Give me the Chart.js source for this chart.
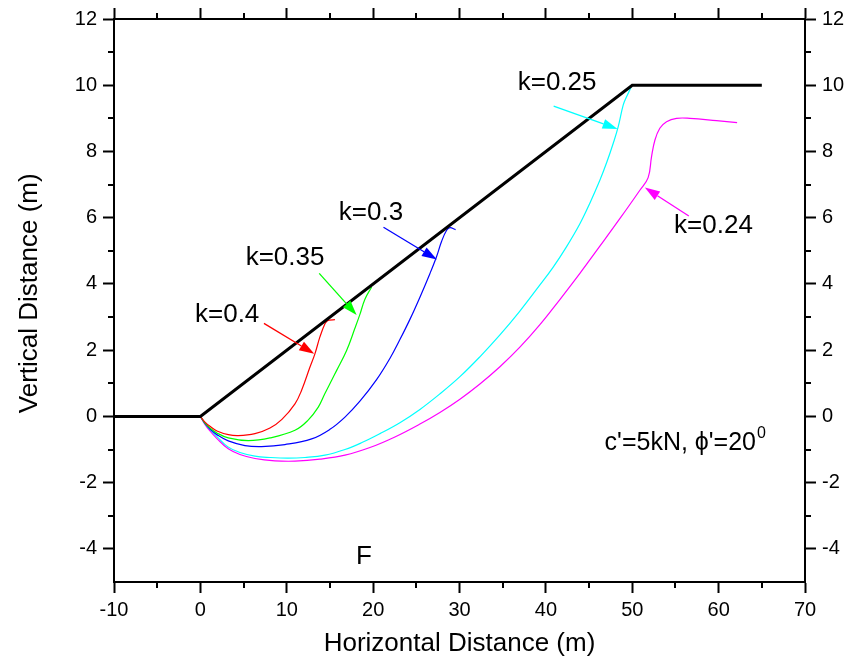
<!DOCTYPE html>
<html>
<head>
<meta charset="utf-8">
<script src="https://cdn.jsdelivr.net/npm/chart.js@4/dist/chart.umd.min.js"></script>
<style>
  html, body { margin: 0; padding: 0; background: #fff; }
</style>
</head>
<body>
<canvas id="slopeChart" width="850" height="660"></canvas>
<script>
// ground surface
const slopeX = [-10, 0, 50, 65]
const slopeY = [0, 0, 10, 10]

// slip surfaces for each k
const k040X = [0, 0.53, 1.11, 1.92, 3.23, 4.39, 6.32, 8.06, 9.44, 10.95, 11.72, 12.69, 13.26, 13.84, 14.42, 14.71, 14.92, 15.58]
const k040Y = [0, -0.17, -0.30, -0.44, -0.55, -0.58, -0.52, -0.35, -0.09, 0.38, 0.79, 1.49, 1.89, 2.40, 2.80, 2.89, 2.91, 2.92]

const k035X = [0, 0.53, 1.11, 1.92, 3.23, 5.55, 8.06, 10.95, 12.45, 13.65, 14.42, 15.20, 15.78, 16.93, 17.89, 18.47, 19.05, 19.83]
const k035Y = [0, -0.20, -0.35, -0.50, -0.65, -0.73, -0.65, -0.42, -0.12, 0.28, 0.69, 1.09, 1.39, 1.99, 2.66, 3.08, 3.54, 3.91]

const k030X = [0, 0.53, 1.11, 1.92, 3.23, 5.16, 7.09, 9.79, 12.88, 15.0, 16.74, 18.47, 20.40, 21.94, 23.10, 24.26, 25.42, 26.57, 27.35, 27.93, 28.51, 28.89, 29.55]
const k030Y = [0, -0.21, -0.38, -0.55, -0.74, -0.88, -0.91, -0.85, -0.68, -0.39, -0.02, 0.46, 1.11, 1.75, 2.32, 2.93, 3.60, 4.31, 4.83, 5.29, 5.62, 5.70, 5.64]

const k025X = [0, 0.53, 1.11, 1.92, 3.19, 4.58, 6.32, 8.06, 10.14, 12.11, 14.42, 16.74, 18.70, 20.79, 23.10, 25.42, 27.73, 30.05, 32.36, 34.68, 36.99, 39.31, 40.85, 42.31, 43.94, 45.09, 46.25, 47.06, 47.79, 48.37, 48.95, 49.34, 49.92]
const k025Y = [0, -0.21, -0.39, -0.61, -0.92, -1.09, -1.20, -1.24, -1.26, -1.24, -1.17, -1.00, -0.79, -0.52, -0.19, 0.21, 0.68, 1.20, 1.80, 2.46, 3.18, 3.97, 4.51, 5.09, 5.82, 6.44, 7.13, 7.68, 8.24, 8.74, 9.40, 9.65, 9.97]

const k024X = [0, 0.53, 1.11, 1.92, 3.23, 4.58, 6.32, 8.63, 10.95, 13.84, 16.74, 19.63, 22.52, 25.42, 27.73, 30.05, 32.36, 34.68, 36.99, 39.31, 41.62, 43.94, 46.25, 48.56, 50.88, 51.84, 52.23, 52.62, 53.19, 53.97, 55.13, 56.67, 59.76, 62.14]
const k024Y = [0, -0.24, -0.44, -0.67, -0.98, -1.15, -1.27, -1.34, -1.35, -1.29, -1.17, -0.94, -0.62, -0.23, 0.12, 0.52, 0.98, 1.50, 2.09, 2.77, 3.53, 4.32, 5.14, 5.97, 6.83, 7.21, 7.84, 8.34, 8.70, 8.90, 9.00, 9.00, 8.93, 8.87]

// axis ticks
const xMajor = [-10, 0, 10, 20, 30, 40, 50, 60, 70]
const xMinor = [-5, 5, 15, 25, 35, 45, 55, 65]
const yMajor = [-4, -2, 0, 2, 4, 6, 8, 10, 12]
const yMinor = [-3, -1, 1, 3, 5, 7, 9, 11]

// labels and arrows, in data units
const textNotes = [
  { text: 'k=0.25', x: 41.3, y: 10.07 },
  { text: 'k=0.24', x: 59.4, y: 5.75 },
  { text: 'k=0.3', x: 19.75, y: 6.14 },
  { text: 'k=0.35', x: 9.8, y: 4.78 },
  { text: 'k=0.4', x: 3.1, y: 3.06 },
  { text: 'F', x: 18.94, y: -4.23 }
]
const arrowNotes = [
  { x0: 40.9, y0: 9.37, x1: 48.3, y1: 8.68, color: '#00FFFF' },
  { x0: 56.55, y0: 6.05, x1: 51.46, y1: 6.91, color: '#FF00FF' },
  { x0: 21.2, y0: 5.71, x1: 27.38, y1: 4.74, color: '#0000FF' },
  { x0: 13.76, y0: 4.32, x1: 18.09, y1: 3.06, color: '#00FF00' },
  { x0: 7.36, y0: 2.81, x1: 13.18, y1: 1.89, color: '#FF0000' }
]

const FONT = '"Liberation Sans", Arial, sans-serif'

function pts(xs, ys) {
  return xs.map((x, i) => ({ x: x, y: ys[i] }))
}

function curve(label, xs, ys, color) {
  return {
    label: label,
    data: pts(xs, ys),
    borderColor: color,
    borderWidth: 1.2,
    pointRadius: 0,
    fill: false,
    tension: 0.4
  }
}

// outward minor ticks on all four sides
const minorTicks = {
  id: 'minorTicks',
  afterDraw(chart) {
    const ctx = chart.ctx
    const s = chart.scales
    const a = chart.chartArea
    ctx.save()
    ctx.strokeStyle = '#000'
    ctx.lineWidth = 2
    ctx.beginPath()
    xMinor.forEach(v => {
      const px = Math.round(s.x.getPixelForValue(v))
      ctx.moveTo(px, a.bottom); ctx.lineTo(px, a.bottom + 6)
      ctx.moveTo(px, a.top); ctx.lineTo(px, a.top - 6)
    })
    yMinor.forEach(v => {
      const py = Math.round(s.y.getPixelForValue(v))
      ctx.moveTo(a.left, py); ctx.lineTo(a.left - 6, py)
      ctx.moveTo(a.right, py); ctx.lineTo(a.right + 6, py)
    })
    ctx.stroke()
    ctx.restore()
  }
}

// labels, arrows and the strength note
const notes = {
  id: 'notes',
  afterDatasetsDraw(chart) {
    const ctx = chart.ctx
    const sx = chart.scales.x
    const sy = chart.scales.y
    ctx.save()

    arrowNotes.forEach(n => {
      const x0 = sx.getPixelForValue(n.x0), y0 = sy.getPixelForValue(n.y0)
      const x1 = sx.getPixelForValue(n.x1), y1 = sy.getPixelForValue(n.y1)
      const ang = Math.atan2(y1 - y0, x1 - x0)
      const len = 15, half = 5
      const bx = x1 - len * Math.cos(ang), by = y1 - len * Math.sin(ang)
      ctx.strokeStyle = n.color
      ctx.fillStyle = n.color
      ctx.lineWidth = 1.3
      ctx.beginPath()
      ctx.moveTo(x0, y0)
      ctx.lineTo(bx, by)
      ctx.stroke()
      ctx.beginPath()
      ctx.moveTo(x1, y1)
      ctx.lineTo(bx + half * Math.sin(ang), by - half * Math.cos(ang))
      ctx.lineTo(bx - half * Math.sin(ang), by + half * Math.cos(ang))
      ctx.closePath()
      ctx.fill()
    })

    ctx.fillStyle = '#000'
    ctx.font = '26px ' + FONT
    ctx.textAlign = 'center'
    ctx.textBaseline = 'middle'
    textNotes.forEach(n => {
      ctx.fillText(n.text, sx.getPixelForValue(n.x), sy.getPixelForValue(n.y))
    })

    // c'=5kN, phi'=20 with superscript 0
    ctx.font = '25px ' + FONT
    const main = "c'=5kN, \u03D5'=20"
    const tx = sx.getPixelForValue(46.8)
    const ty = sy.getPixelForValue(-0.82)
    ctx.textAlign = 'left'
    ctx.fillText(main, tx, ty)
    const w = ctx.measureText(main).width
    ctx.font = '16px ' + FONT
    ctx.fillText('0', tx + w + 1, ty - 10)

    ctx.restore()
  }
}

const axisGrid = {
  drawOnChartArea: false,
  drawTicks: true,
  tickLength: 11,
  tickWidth: 2,
  tickColor: '#000'
}
const axisBorder = { display: true, width: 2, color: '#000' }
const tickFont = { family: FONT, size: 20 }

new Chart(document.getElementById('slopeChart'), {
  type: 'line',
  data: {
    datasets: [
      {
        label: 'slope',
        data: pts(slopeX, slopeY),
        borderColor: '#000',
        borderWidth: 3,
        pointRadius: 0,
        fill: false,
        tension: 0
      },
      curve('k=0.4', k040X, k040Y, '#FF0000'),
      curve('k=0.35', k035X, k035Y, '#00FF00'),
      curve('k=0.3', k030X, k030Y, '#0000FF'),
      curve('k=0.25', k025X, k025Y, '#00FFFF'),
      curve('k=0.24', k024X, k024Y, '#FF00FF')
    ]
  },
  options: {
    responsive: false,
    animation: false,
    layout: { padding: 0 },
    plugins: {
      legend: { display: false },
      tooltip: { enabled: false }
    },
    scales: {
      x: {
        type: 'linear',
        position: 'bottom',
        min: -10,
        max: 70,
        afterBuildTicks: s => { s.ticks = xMajor.map(v => ({ value: v })) },
        afterFit: s => { s.height = 78 },
        ticks: { font: tickFont, color: '#000', padding: 5, autoSkip: false, maxRotation: 0 },
        grid: axisGrid,
        border: axisBorder,
        title: {
          display: true,
          text: 'Horizontal Distance (m)',
          color: '#000',
          font: { family: FONT, size: 26 },
          padding: { top: 0, bottom: 1 }
        }
      },
      x2: {
        type: 'linear',
        position: 'top',
        min: -10,
        max: 70,
        afterBuildTicks: s => { s.ticks = xMajor.map(v => ({ value: v })) },
        afterFit: s => { s.height = 19 },
        ticks: { display: false },
        grid: axisGrid,
        border: axisBorder
      },
      y: {
        type: 'linear',
        position: 'left',
        min: -5,
        max: 12,
        afterBuildTicks: s => { s.ticks = yMajor.map(v => ({ value: v })) },
        afterFit: s => { s.width = 114 },
        ticks: { font: tickFont, color: '#000', padding: 6 },
        grid: axisGrid,
        border: axisBorder,
        title: {
          display: true,
          // leading spaces nudge the centred title up a little, as in the original
          text: '  Vertical Distance (m)',
          color: '#000',
          font: { family: FONT, size: 26 },
          padding: { top: 14, bottom: 0 }
        }
      },
      y2: {
        type: 'linear',
        position: 'right',
        min: -5,
        max: 12,
        afterBuildTicks: s => { s.ticks = yMajor.map(v => ({ value: v })) },
        afterFit: s => { s.width = 45 },
        ticks: { font: tickFont, color: '#000', padding: 6 },
        grid: axisGrid,
        border: axisBorder
      }
    }
  },
  plugins: [minorTicks, notes]
})
</script>
</body>
</html>
